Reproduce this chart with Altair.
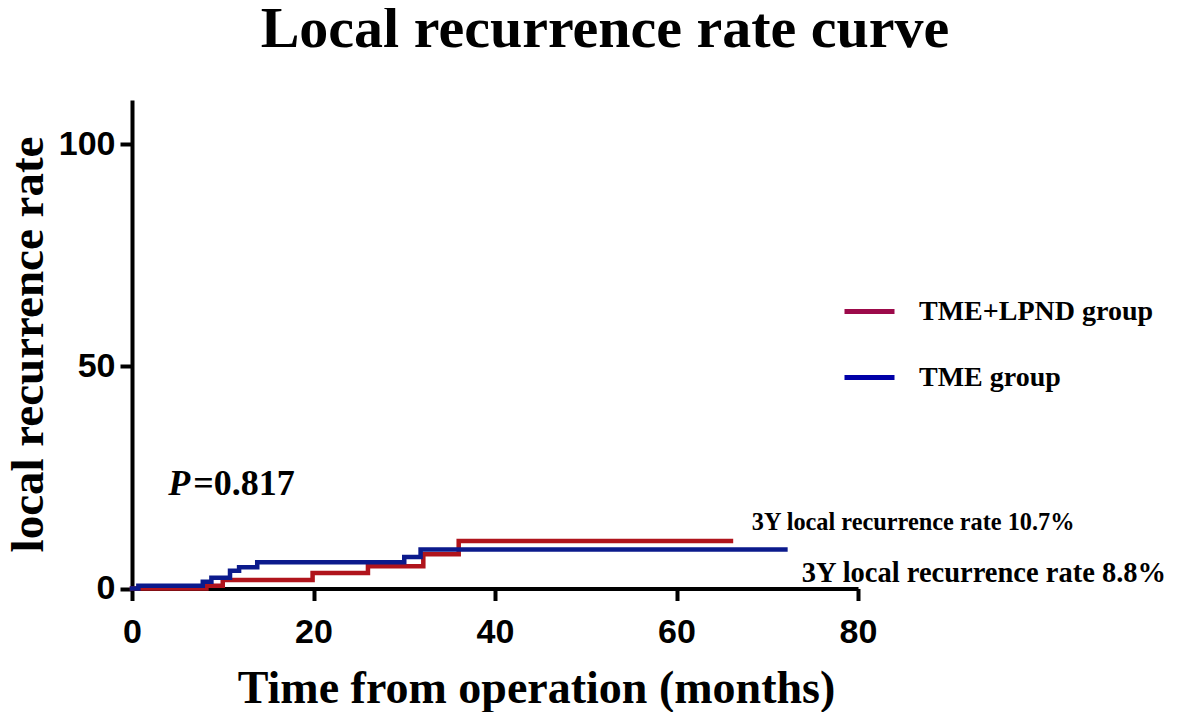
import altair as alt
import pandas as pd

# ---- data ----
groups = ["TME+LPND group", "TME group"]
red_time = [0, 8.2, 10.0, 19.9, 26.0, 32.1, 36.0, 66.0]
red_rate = [0, 0.6, 1.9, 3.5, 5.0, 7.7, 10.7, 10.7]
blue_time = [0, 0.7, 7.8, 8.75, 10.8, 11.8, 13.8, 30.0, 31.8, 72.0]
blue_rate = [0, 0.6, 1.5, 2.4, 4.0, 4.8, 5.9, 7.1, 8.8, 8.8]
x_ticks = [0, 20, 40, 60, 80]
y_ticks = [0, 50, 100]

line_colors = ["#B0141C", "#0B1A8C"]
legend_colors = ["#9C0A4A", "#0000A8"]

ann_red_text = "3Y local recurrence rate 10.7%"
ann_blue_text = "3Y local recurrence rate 8.8%"
p_label = "P"
p_value = "=0.817"

df_red = pd.DataFrame({"time": red_time, "rate": red_rate, "group": groups[0]})
df_blue = pd.DataFrame({"time": blue_time, "rate": blue_rate, "group": groups[1]})
df_all = pd.concat([df_red, df_blue], ignore_index=True)

SERIF = "Liberation Serif"
SANS = "Liberation Sans"

x_enc = alt.X(
    "time:Q",
    scale=alt.Scale(domain=[0, 80], nice=False, zero=True),
    axis=alt.Axis(
        values=x_ticks, title="Time from operation (months)",
        titleX=404, titleY=114, titleBaseline="alphabetic", titleAlign="center",
        titleFontSize=46, labelPadding=15,
    ),
)
y_enc = alt.Y(
    "rate:Q",
    scale=alt.Scale(domain=[0, 110], nice=False, zero=True),
    axis=alt.Axis(
        values=y_ticks, title="local recurrence rate",
        titleX=-104, titleY=244, titleBaseline="middle", titleAlign="center",
        labelPadding=5,
    ),
)

line_scale = alt.Scale(domain=groups, range=line_colors)

red_line = alt.Chart(df_red).mark_line(
    interpolate="step-after", strokeWidth=4.5, strokeCap="square"
).encode(x=x_enc, y=y_enc, color=alt.Color("group:N", scale=line_scale, legend=None))

blue_line = alt.Chart(df_blue).mark_line(
    interpolate="step-after", strokeWidth=4.5, strokeCap="square"
).encode(x=x_enc, y=y_enc, color=alt.Color("group:N", scale=line_scale, legend=None))

legend_layer = alt.Chart(df_all).mark_line(opacity=0).encode(
    x=x_enc, y=y_enc,
    color=alt.Color(
        "group:N",
        scale=alt.Scale(domain=groups, range=legend_colors),
        legend=alt.Legend(
            orient="none", legendX=710, legendY=184, title=None,
            symbolType="stroke", symbolSize=2500, symbolStrokeWidth=5,
            symbolOpacity=1, labelFont=SERIF, labelFontSize=28,
            labelFontWeight="bold", labelColor="black", labelOffset=22,
            rowPadding=24, padding=0, labelLimit=400,
        ),
    ),
)

text_style = dict(font=SERIF, fontWeight="bold", color="black", align="left", baseline="alphabetic")

ann_red = alt.Chart().mark_text(fontSize=24.3, **text_style).encode(
    x=alt.datum(68.3), y=alt.datum(13.2), text=alt.datum(ann_red_text))
ann_blue = alt.Chart().mark_text(fontSize=28.5, **text_style).encode(
    x=alt.datum(73.8), y=alt.datum(1.5), text=alt.datum(ann_blue_text))
p_text = alt.Chart().mark_text(fontSize=36, fontStyle="italic", **text_style).encode(
    x=alt.datum(4.0), y=alt.datum(21.0), text=alt.datum(p_label))
p_val = alt.Chart().mark_text(fontSize=36, dx=25, **text_style).encode(
    x=alt.datum(4.0), y=alt.datum(21.0), text=alt.datum(p_value))

chart = alt.layer(
    legend_layer, red_line, blue_line, ann_red, ann_blue, p_text, p_val
).resolve_scale(color="independent").properties(
    width=726,
    height=488.5,
    autosize="none",
    background="white",
    padding={"left": 124, "top": 92, "right": 310, "bottom": 123.5},
    title=alt.TitleParams(
        "Local recurrence rate curve", font=SERIF, fontSize=58, fontWeight="bold",
        color="black", anchor="middle", dx=110, offset=41,
    ),
).configure_axis(
    grid=False, domainColor="black", domainWidth=4, tickColor="black",
    tickWidth=4, tickSize=12, labelFont=SANS, labelFontSize=34,
    labelFontWeight="bold", labelColor="black", titleFont=SERIF,
    titleFontSize=47, titleFontWeight="bold", titleColor="black",
    labelFlush=False, labelOverlap=False,
).configure_view(stroke=None)

chart.save("out.html", embed_options={"renderer": "svg", "actions": False})
